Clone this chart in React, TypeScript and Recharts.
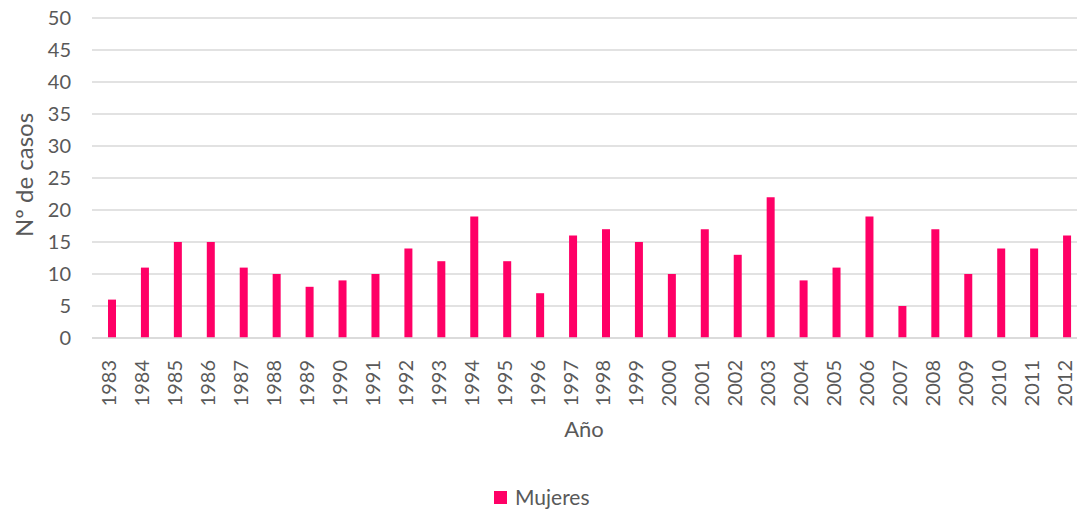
import React from 'react';
import { BarChart, Bar, XAxis, YAxis, CartesianGrid, Legend } from 'recharts';

const years = ['1983','1984','1985','1986','1987','1988','1989','1990','1991','1992','1993','1994','1995','1996','1997','1998','1999','2000','2001','2002','2003','2004','2005','2006','2007','2008','2009','2010','2011','2012'];
const mujeres = [6,11,15,15,11,10,8,9,10,14,12,19,12,7,16,17,15,10,17,13,22,9,11,19,5,17,10,14,14,16];
const yTicks = [0,5,10,15,20,25,30,35,40,45,50];

const data = years.map((y, i) => ({ year: y, Mujeres: mujeres[i] }));

const FONT = 'Lato, "Open Sans", sans-serif';
const TXT = '#595959';

const XTick = (props: any) => {
  const { x, y, payload } = props;
  return (
    <text x={x} y={y} dy="0.2em" transform={`rotate(-90, ${x}, ${y})`} textAnchor="end" fill={TXT} fontSize={20} fontFamily={FONT}>
      {payload.value}
    </text>
  );
};

const YLabel = (props: any) => {
  const { viewBox } = props;
  const cy = viewBox.y + viewBox.height / 2 - 3;
  return (
    <text x={23} y={cy} transform={`rotate(-90, 23, ${cy})`} textAnchor="middle" dominantBaseline="central" fill={TXT} fontSize={24} fontFamily={FONT}>
      Nº de casos
    </text>
  );
};

const LegendContent = () => (
  <div style={{ display: 'flex', alignItems: 'center', fontFamily: FONT, fontSize: 21, color: TXT, lineHeight: '24px' }}>
    <span style={{ display: 'inline-block', width: 13, height: 13, background: '#FF0066', marginRight: 8 }} />
    <span>Mujeres</span>
  </div>
);

export default function App() {
  return (
    <div style={{ position: 'fixed', left: 0, top: 0, width: 1077, height: 513, overflow: 'hidden', background: '#fff' }}>
      <BarChart width={1077} height={513} data={data} margin={{ top: 18, right: -11, left: 0, bottom: 0 }}>
        <CartesianGrid vertical={false} stroke="#d9d9d9" strokeWidth={1.3} />
        <XAxis
          dataKey="year"
          axisLine={{ stroke: '#d9d9d9', strokeWidth: 1.3 }}
          tickLine={false}
          tickSize={6}
          tickMargin={16}
          interval={0}
          height={175}
          padding={{ left: 4, right: 4 }}
          tick={<XTick />}
          label={{ value: 'Año', position: 'insideBottom', offset: 76, dx: -6, fill: TXT, fontSize: 22, fontFamily: FONT }}
        />
        <YAxis
          domain={[0, 50]}
          ticks={yTicks}
          width={92}
          axisLine={false}
          tickLine={false}
          tickSize={6}
          tickMargin={15}
          interval={0}
          tick={{ fill: TXT, fontSize: 20, fontFamily: FONT }}
          label={<YLabel />}
        />
        <Legend
          verticalAlign="middle"
          align="center"
          content={<LegendContent />}
          wrapperStyle={{ left: 494, top: 485, width: 200 }}
        />
        <Bar dataKey="Mujeres" fill="#FF0066" barSize={8} isAnimationActive={false} />
      </BarChart>
    </div>
  );
}
